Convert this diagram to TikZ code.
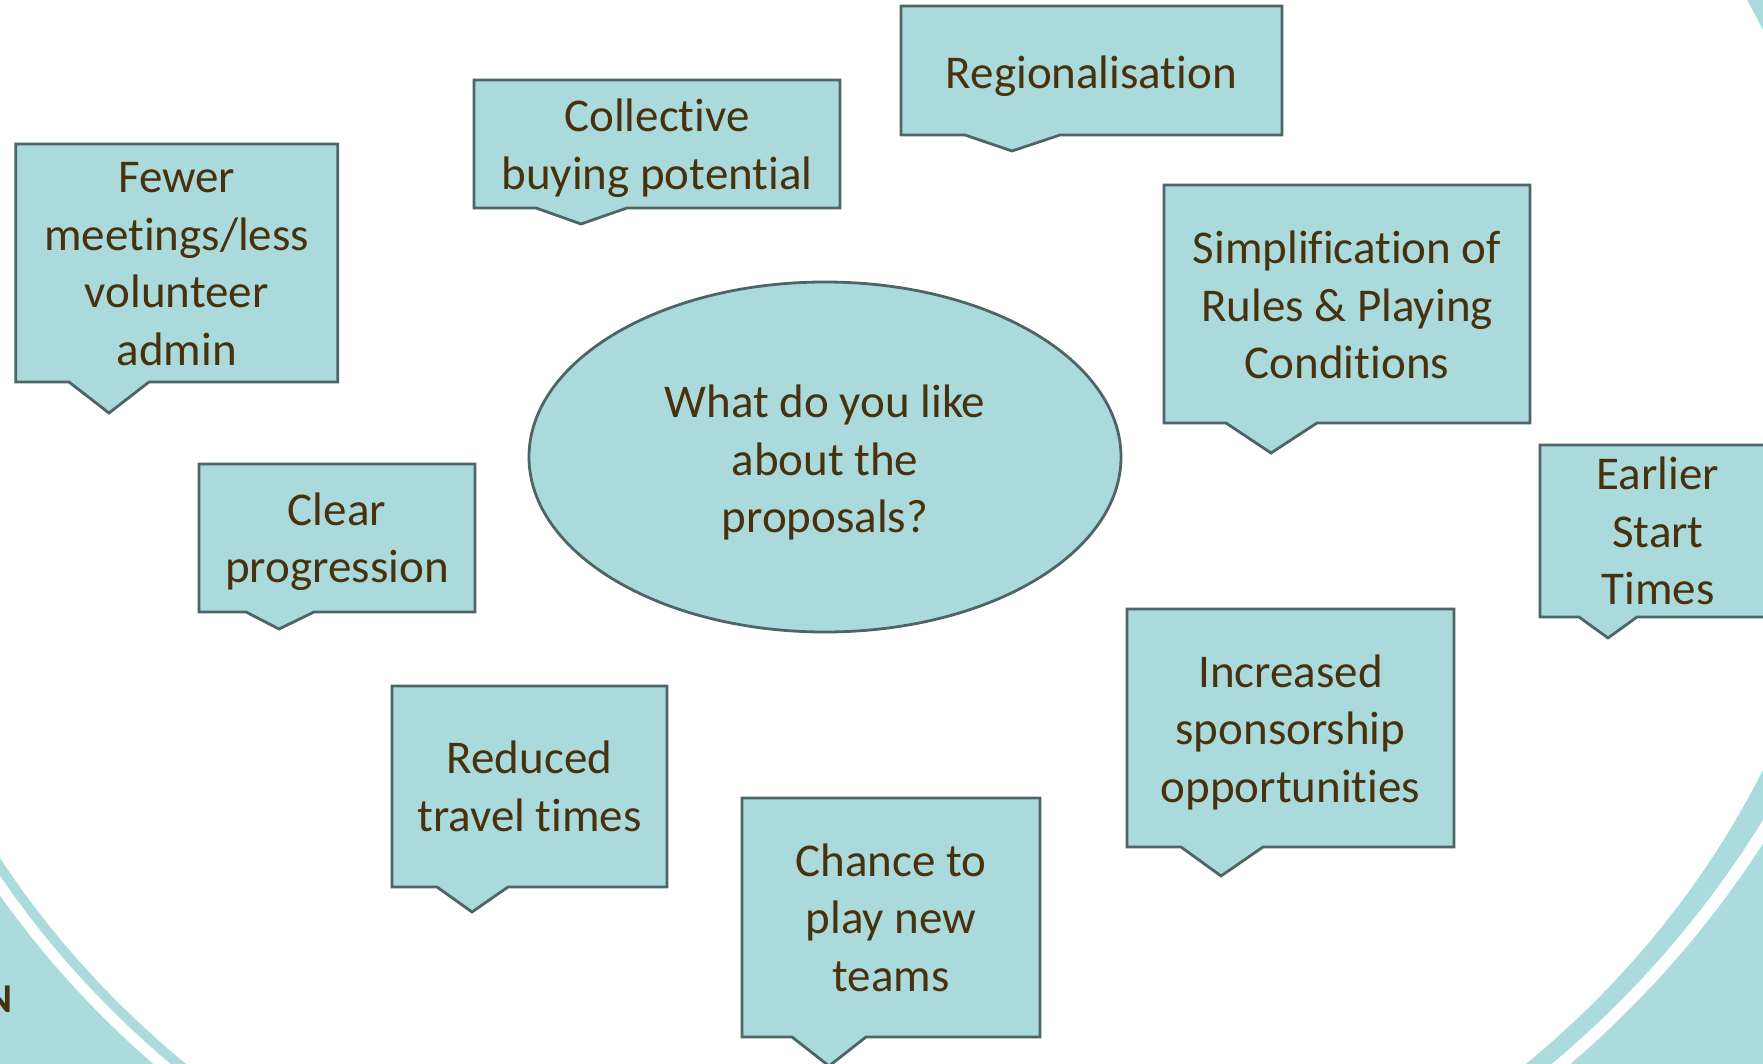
\documentclass[tikz,border=0pt]{standalone}
\usepackage{fontspec}
\setmainfont{Carlito}[Ligatures={NoCommon,NoRare}]
\usetikzlibrary{shapes.geometric}
\definecolor{tealbg}{RGB}{172,219,221}
\definecolor{boxfill}{RGB}{171,218,220}
\definecolor{boxline}{RGB}{78,100,102}
\definecolor{txt}{RGB}{72,50,14}
\tikzset{
  cbox/.style={draw=boxline, fill=boxfill, line width=1.4pt, line join=miter},
  ctext/.style={text=txt, align=center, inner sep=0pt, font=\fontsize{23.5}{28.8}\selectfont},
}
% #1 name, #2 x1, #3 y1, #4 x2, #5 y2, #6 tail left x, #7 tail right x, #8 tip x, #9 tip y
\newcommand{\callout}[9]{%
  \draw[cbox] (#2,#3) -- (#4,#3) -- (#4,#5) -- (#7,#5) -- (#8,#9) -- (#6,#5) -- (#2,#5) -- cycle;
  \coordinate (#1) at ({(#2+#4)/2},{(#3+#5)/2});
}
\begin{document}
\begin{tikzpicture}[x=0.5pt,y=-0.5pt]
\useasboundingbox (0,0) rectangle (1763,1064);
\clip (0,0) rectangle (1763,1064);
\fill[white] (-50,-50) rectangle (1813,1114);
% background: teal outside the big white ellipse
\fill[tealbg, even odd rule] (-50,-50) rectangle (1813,1114)
  (856,400) ellipse [x radius=995, y radius=898];
% thin white lines
\begin{scope}
  \clip (-50,-50) rectangle (856,1114);
  \fill[white, even odd rule] (856,400) ellipse [x radius=1016, y radius=919]
    (856,400) ellipse [x radius=1005, y radius=908];
\end{scope}
\begin{scope}
  \clip (856,-50) rectangle (1813,1114);
  \fill[white, even odd rule] (856,330) ellipse [x radius=1059, y radius=994]
    (856,330) ellipse [x radius=1046, y radius=983];
\end{scope}
\node[anchor=base east, text=txt, inner sep=0pt, font=\bfseries\fontsize{20.5}{24}\selectfont] (nletter) at (12.5,1012) {N};

% central ellipse
\node[ellipse, draw=boxline, fill=boxfill, line width=1.4pt, minimum width=296pt, minimum height=175pt, inner sep=0pt] (q) at (825,457) {};
\node[ctext] (qt) at (825,462.5) {What do you like\\about the\\proposals?};

\callout{fewer}{15.7}{144}{337.7}{382}{69}{149}{109}{413}
\node[ctext, yshift=-0.5pt] (fewer-t) at (fewer) {Fewer\\meetings/less\\volunteer\\admin};

\callout{coll}{474}{80}{840}{208}{536}{627}{581}{224}
\node[ctext, yshift=-2pt] (coll-t) at (coll) {Collective\\buying potential};

\callout{reg}{901}{6}{1282}{135}{965}{1060}{1012}{151}
\node[ctext, yshift=-2.8pt] (reg-t) at (reg) {Regionalisation};

\callout{simp}{1164}{185}{1530}{423}{1226}{1317}{1271}{453}
\node[ctext, yshift=-0.5pt] (simp-t) at (simp) {Simplification of\\Rules \& Playing\\Conditions};

\callout{early}{1540}{445}{1776}{617}{1579}{1637}{1608}{638}
\node[ctext] (early-t) at (early) {Earlier\\Start\\Times};

\callout{clear}{199}{464}{475}{612}{246}{314}{279}{629}
\node[ctext, yshift=-1.8pt] (clear-t) at (clear) {Clear\\progression};

\callout{red}{392}{686}{667}{887}{437}{508}{472}{912}
\node[ctext] (red-t) at (red) {Reduced\\travel times};

\callout{chance}{742}{798}{1040}{1037}{792}{866}{829}{1066}
\node[ctext] (chance-t) at (chance) {Chance to\\play new\\teams};

\callout{incr}{1127}{609}{1454}{847}{1181}{1263}{1221}{876}
\node[ctext, yshift=-2.2pt] (incr-t) at (incr) {Increased\\sponsorship\\opportunities};
\end{tikzpicture}
\end{document}
